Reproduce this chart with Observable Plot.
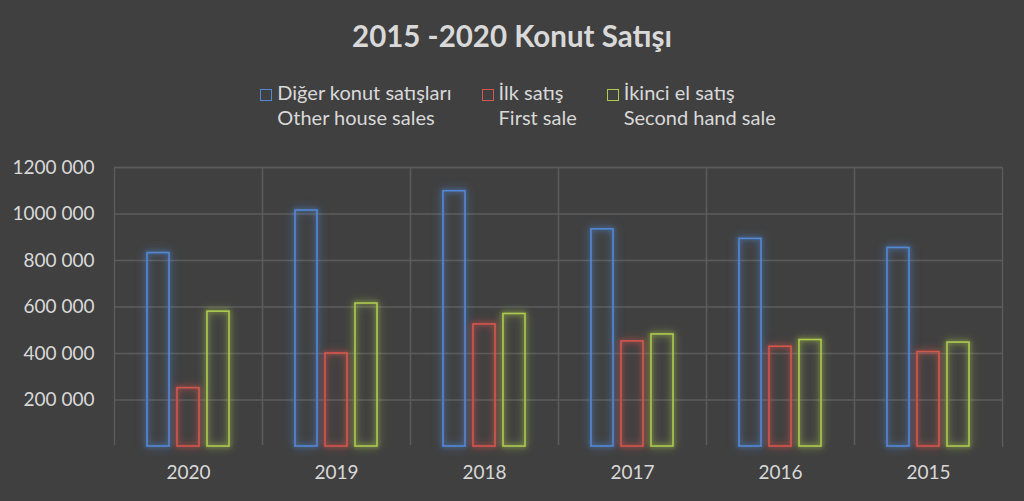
<!DOCTYPE html>
<html lang="tr">
<head>
<meta charset="utf-8">
<script src="https://cdn.jsdelivr.net/npm/d3@7"></script>
<script src="https://cdn.jsdelivr.net/npm/@observablehq/plot@0.6"></script>
<style>
  html, body { margin: 0; padding: 0; background: #404040; }
  body { width: 1024px; height: 501px; overflow: hidden; font-family: Lato, "Open Sans", sans-serif; color: #d9d9d9; }
  #header { position: relative; height: 140px; }
  #title { position: absolute; top: 18px; left: 0; width: 1024px; text-align: center; font-size: 29.5px; line-height: 35px; font-weight: 700; color: #d9d9d9; }
  #legend { position: absolute; top: 79.5px; left: 0; width: 1024px; display: flex; justify-content: center; gap: 30px; padding-left: 12px; box-sizing: border-box; font-size: 20px; line-height: 25px; }
  .item { display: grid; grid-template-columns: 12px auto; column-gap: 5px; }
  .sq { width: 10px; height: 10px; border: 1.5px solid; margin-top: 9.5px; box-sizing: content-box; }
  .en { grid-column: 2; }
  #chart svg { display: block; }
</style>
</head>
<body>
<div id="header">
  <div id="title">2015 -2020 Konut Satışı</div>
  <div id="legend"></div>
</div>
<div id="chart"></div>
<script>
const years = ["2020", "2019", "2018", "2017", "2016", "2015"];
const seriesKeys = ["Diğer konut satışları", "İlk satış", "İkinci el satış"];
const seriesEnglish = ["Other house sales", "First sale", "Second hand sale"];
const colors = ["#5289d6", "#d5564e", "#aecb4f"];
const otherSales = [832000, 1015000, 1098000, 934000, 893000, 854000];
const firstSales = [251000, 400000, 525000, 452000, 429000, 406000];
const secondHand = [580000, 615000, 570000, 482000, 458000, 447000];
const yTicks = [200000, 400000, 600000, 800000, 1000000, 1200000];

const seriesValues = [otherSales, firstSales, secondHand];
const rows = [];
years.forEach((year, i) => {
  seriesKeys.forEach((s, j) => rows.push({year, series: s, value: seriesValues[j][i]}));
});

const legend = document.getElementById("legend");
seriesKeys.forEach((s, j) => {
  const item = document.createElement("div");
  item.className = "item";
  const sq = document.createElement("div");
  sq.className = "sq";
  sq.style.borderColor = colors[j];
  const tr = document.createElement("div");
  tr.textContent = s;
  const en = document.createElement("div");
  en.className = "en";
  en.textContent = seriesEnglish[j];
  item.append(sq, tr, en);
  legend.append(item);
});

const fmt = d => { const s = String(d); return s.slice(0, -3) + " " + s.slice(-3); };

const chart = Plot.plot({
  width: 1024,
  height: 361,
  marginTop: 27,
  marginBottom: 55,
  marginLeft: 113,
  marginRight: 21,
  style: { background: "#404040", color: "#d9d9d9", fontFamily: "Lato, 'Open Sans', sans-serif", fontSize: "19px" },
  facet: { data: rows, x: "year", marginTop: 0, marginBottom: 0, marginLeft: 0, marginRight: 0 },
  fx: { domain: years, padding: 0, label: null, axis: "bottom", tickSize: 0, tickPadding: 19 },
  x: { domain: seriesKeys, axis: null, paddingInner: 0.267, paddingOuter: 1.1 },
  y: { domain: [0, 1200000], ticks: yTicks, tickFormat: fmt, tickSize: 0, tickPadding: 20, label: null },
  color: { domain: seriesKeys, range: colors },
  marks: [
    Plot.ruleY(yTicks, { stroke: "#5c5c5c", strokeWidth: 1.3 }),
    Plot.frame({ stroke: "#5c5c5c", strokeWidth: 1.3 }),
    Plot.ruleY([0], { stroke: "#404040", strokeWidth: 3 }),
    Plot.barY(rows, { x: "series", y: "value", stroke: "series", fill: "none", strokeWidth: 1.6 })
  ]
});
document.getElementById("chart").append(chart);

d3.select(chart).selectAll("g[aria-label='bar'] rect").each(function () {
  const c = d3.color(this.getAttribute("stroke"));
  if (!c) return;
  const g = c.copy({opacity: 0.7}).formatRgb();
  this.style.filter = `drop-shadow(0 0 2px ${g}) drop-shadow(0 0 4px ${g})`;
});
</script>
</body>
</html>
